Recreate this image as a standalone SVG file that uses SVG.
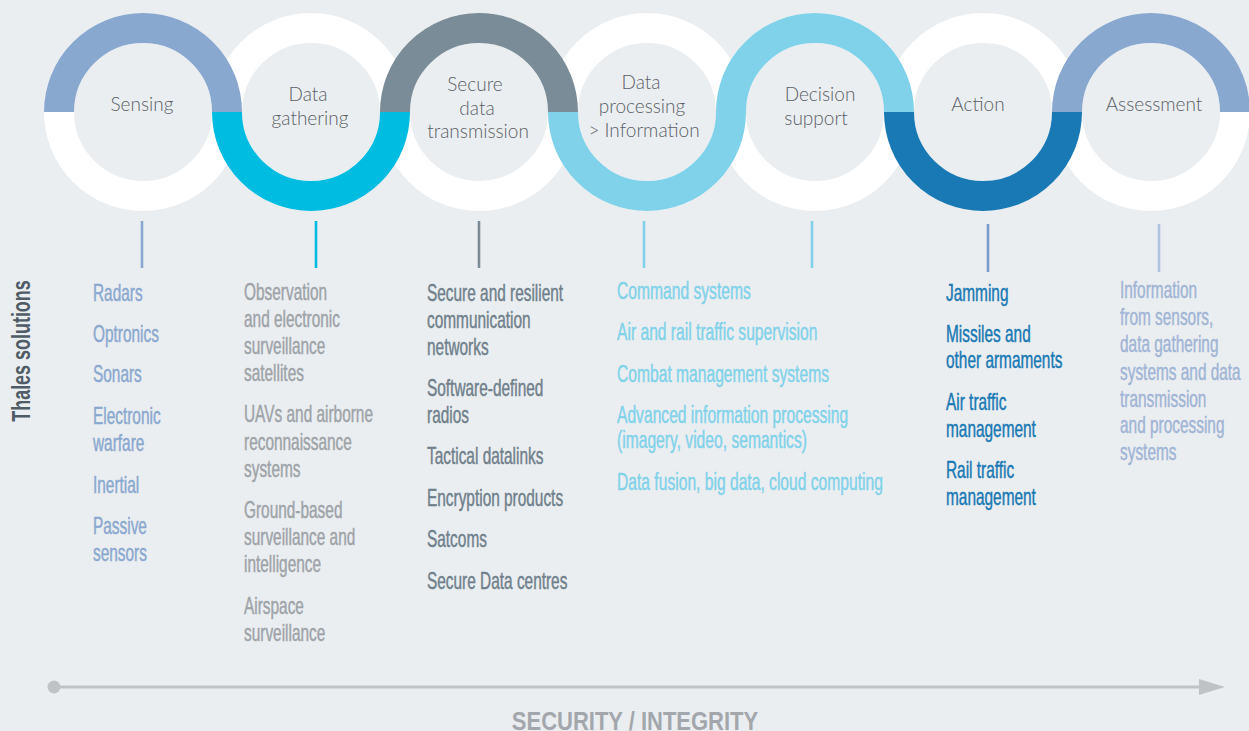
<svg xmlns="http://www.w3.org/2000/svg" width="1249" height="731" viewBox="0 0 1249 731">
<style>
.bg{fill:#EBEEF1}
.ring{fill:none;stroke:#FFFFFF;stroke-width:30}
.arc{fill:none;stroke-width:30;stroke-linecap:butt}
.lbl{font-family:Lato,"Open Sans","Liberation Sans",sans-serif;font-weight:300;font-size:19px;fill:#5A5F66;text-anchor:middle}
.tick{stroke-width:2.6}
.lst{font-family:"Liberation Sans",Arial,sans-serif;font-size:23px;stroke-width:0.45}
.c1{fill:#89A8CF;stroke:#89A8CF}.c2{fill:#9EA3A7;stroke:#9EA3A7}.c3{fill:#6F808C;stroke:#6F808C}.c4{fill:#80D2EA;stroke:#80D2EA}.c5{fill:#1879B4;stroke:#1879B4}.c6{fill:#9FB5D5;stroke:#9FB5D5}
</style>
<rect class="bg" x="0" y="0" width="1249" height="731"/>
<g id="rings-base">
<circle class="ring" cx="143" cy="112" r="84"/>
<circle class="ring" cx="311" cy="112" r="84"/>
<circle class="ring" cx="479" cy="112" r="84"/>
<circle class="ring" cx="647" cy="112" r="84"/>
<circle class="ring" cx="815" cy="112" r="84"/>
<circle class="ring" cx="983" cy="112" r="84"/>
<circle class="ring" cx="1151" cy="112" r="84"/>
</g>
<g id="connectors">
<line class="tick" x1="142" y1="221" x2="142" y2="268" stroke="#89A8CF"/>
<line class="tick" x1="316" y1="221" x2="316" y2="268" stroke="#00BCE0"/>
<line class="tick" x1="479" y1="221" x2="479" y2="268" stroke="#798C98"/>
<line class="tick" x1="644" y1="221" x2="644" y2="268" stroke="#80D2EA"/>
<line class="tick" x1="812" y1="221" x2="812" y2="268" stroke="#80D2EA"/>
<line class="tick" x1="988" y1="224" x2="988" y2="272" stroke="#7A9CCB"/>
<line class="tick" x1="1159" y1="224" x2="1159" y2="272" stroke="#AFC4E0"/>
<line x1="54" y1="687" x2="1200" y2="687" stroke="#C0C3C6" stroke-width="3"/>
<circle cx="54" cy="687" r="6.5" fill="#C0C3C6"/>
<polygon points="1199,679 1225,687 1199,695" fill="#C0C3C6"/>
</g>
<g id="node-sensing">
<path class="arc" stroke="#89A8CF" d="M59 112 A84 84 0 0 1 227 112"/>
<text class="lbl" x="142" y="111">Sensing</text>
<g class="lst c1" transform="translate(93,0) scale(0.67,1)">
<text x="0" y="301">Radars</text>
<text x="0" y="342">Optronics</text>
<text x="0" y="382">Sonars</text>
<text x="0" y="424">Electronic</text>
<text x="0" y="451">warfare</text>
<text x="0" y="493">Inertial</text>
<text x="0" y="534">Passive</text>
<text x="0" y="561">sensors</text>
</g>
</g>
<g id="node-data-gathering">
<path class="arc" stroke="#00BCE0" d="M227 112 A84 84 0 0 0 395 112"/>
<text class="lbl" x="308" y="101">Data</text>
<text class="lbl" x="310" y="125">gathering</text>
<g class="lst c2" transform="translate(244,0) scale(0.67,1)">
<text x="0" y="300">Observation</text>
<text x="0" y="327">and electronic</text>
<text x="0" y="354">surveillance</text>
<text x="0" y="381">satellites</text>
<text x="0" y="422">UAVs and airborne</text>
<text x="0" y="450">reconnaissance</text>
<text x="0" y="477">systems</text>
<text x="0" y="518">Ground-based</text>
<text x="0" y="545">surveillance and</text>
<text x="0" y="572">intelligence</text>
<text x="0" y="614">Airspace</text>
<text x="0" y="641">surveillance</text>
</g>
</g>
<g id="node-secure-transmission">
<path class="arc" stroke="#798C98" d="M395 112 A84 84 0 0 1 563 112"/>
<text class="lbl" x="475" y="91">Secure</text>
<text class="lbl" x="477" y="115">data</text>
<text class="lbl" x="478" y="138">transmission</text>
<g class="lst c3" transform="translate(427,0) scale(0.67,1)">
<text x="0" y="301">Secure and resilient</text>
<text x="0" y="328">communication</text>
<text x="0" y="355">networks</text>
<text x="0" y="396">Software-defined</text>
<text x="0" y="423">radios</text>
<text x="0" y="464">Tactical datalinks</text>
<text x="0" y="506">Encryption products</text>
<text x="0" y="547">Satcoms</text>
<text x="0" y="589">Secure Data centres</text>
</g>
</g>
<g id="node-data-processing">
<path class="arc" stroke="#80D2EA" d="M563 112 A84 84 0 0 0 731 112"/>
<text class="lbl" x="641" y="89">Data</text>
<text class="lbl" x="642" y="113">processing</text>
<text class="lbl" x="644" y="137">&gt; Information</text>
<g class="lst c4" transform="translate(617,0) scale(0.68,1)">
<text x="0" y="299">Command systems</text>
<text x="0" y="340">Air and rail traffic supervision</text>
<text x="0" y="382">Combat management systems</text>
<text x="0" y="423">Advanced information processing</text>
<text x="0" y="448">(imagery, video, semantics)</text>
<text x="0" y="490">Data fusion, big data, cloud computing</text>
</g>
</g>
<g id="node-decision-support">
<path class="arc" stroke="#80D2EA" d="M731 112 A84 84 0 0 1 899 112"/>
<text class="lbl" x="820" y="101">Decision</text>
<text class="lbl" x="816" y="125">support</text>
</g>
<g id="node-action">
<path class="arc" stroke="#1879B4" d="M899 112 A84 84 0 0 0 1067 112"/>
<text class="lbl" x="978" y="111">Action</text>
<g class="lst c5" transform="translate(946,0) scale(0.67,1)">
<text x="0" y="301">Jamming</text>
<text x="0" y="342">Missiles and</text>
<text x="0" y="368">other armaments</text>
<text x="0" y="410">Air traffic</text>
<text x="0" y="437">management</text>
<text x="0" y="478">Rail traffic</text>
<text x="0" y="505">management</text>
</g>
</g>
<g id="node-assessment">
<path class="arc" stroke="#89A8CF" d="M1067 112 A84 84 0 0 1 1235 112"/>
<text class="lbl" x="1154" y="111">Assessment</text>
<g class="lst c6" transform="translate(1120,0) scale(0.67,1)">
<text x="0" y="298">Information</text>
<text x="0" y="325">from sensors,</text>
<text x="0" y="352">data gathering</text>
<text x="0" y="380">systems and data</text>
<text x="0" y="407">transmission</text>
<text x="0" y="433">and processing</text>
<text x="0" y="460">systems</text>
</g>
</g>
<g id="side-label">
<text transform="translate(30,351) rotate(-90) scale(0.69,1)" font-family="Liberation Sans,Arial,sans-serif" font-weight="bold" font-size="26" fill="#4F5B66" text-anchor="middle">Thales solutions</text>
</g>
<g id="axis-label">
<text transform="translate(635,730) scale(0.88,1)" font-family="Liberation Sans,Arial,sans-serif" font-weight="bold" font-size="25" fill="#A3A7AB" text-anchor="middle">SECURITY / INTEGRITY</text>
</g>
</svg>
